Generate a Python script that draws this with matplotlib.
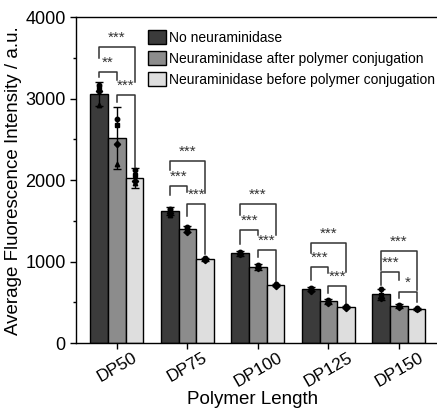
"""Neuraminidase fluorescence bar chart with significance brackets."""

import matplotlib
matplotlib.use("Agg")
import matplotlib.pyplot as plt
import numpy as np

plt.rcParams["font.family"] = ["Liberation Sans", "DejaVu Sans"]

groups = ["DP50", "DP75", "DP100", "DP125", "DP150"]
series = [
    "No neuraminidase",
    "Neuraminidase after polymer conjugation",
    "Neuraminidase before polymer conjugation",
]
means = [
    [3055, 1620, 1105, 662, 600],
    [2515, 1400, 935, 515, 455],
    [2025, 1030, 712, 442, 420],
]
errs = [
    [150, 50, 30, 25, 70],
    [380, 40, 35, 30, 20],
    [120, 20, 15, 15, 15],
]
# individual replicate points per series, per group
points = [
    [[3165, 3130, 3090, 2920], [1650, 1630, 1600, 1570], [1120, 1100, 1090],
     [680, 660, 645], [660, 590, 560]],
    [[2750, 2675, 2440, 2195], [1430, 1400, 1370], [960, 940, 920],
     [535, 510, 495], [470, 455, 445]],
    [[2120, 2060, 1990, 1970], [1040, 1030, 1025], [720, 712, 705],
     [450, 442, 435], [428, 420, 414]],
]
# significance brackets: (group, bar a, bar b, top, left foot, right foot, label)
brackets = [
    (0, 0, 2, 3640, 3500, 3200, "***"), (0, 0, 1, 3325, 3265, 3225, "**"),
    (0, 1, 2, 3045, 2955, 2160, "***"),
    (1, 0, 2, 2233, 2120, 1840, "***"), (1, 0, 1, 1926, 1815, 1850, "***"),
    (1, 1, 2, 1705, 1560, 1100, "***"),
    (2, 0, 2, 1705, 1570, 1325, "***"), (2, 0, 1, 1386, 1215, 1325, "***"),
    (2, 1, 2, 1141, 1055, 736, "***"),
    (3, 0, 2, 1227, 1104, 871, "***"), (3, 0, 1, 933, 773, 859, "***"),
    (3, 1, 2, 700, 613, 466, "***"),
    (4, 0, 2, 1129, 896, 650, "***"), (4, 0, 1, 871, 712, 773, "***"),
    (4, 1, 2, 626, 552, 503, "*"),
]

colors = ["#3b3b3b", "#8c8c8c", "#dedede"]
markers = ["o", "s", "D", "^"]
width = 0.25

fig = plt.figure(figsize=(4.37, 4.09), dpi=100)
ax = fig.add_axes([0.174, 0.161, 0.826, 0.797])

x = np.arange(len(groups))
for k in range(3):
    xs = x + (k - 1) * width
    ax.bar(xs, means[k], width, color=colors[k], edgecolor="black",
           linewidth=1.0, label=series[k], zorder=2)
    ax.errorbar(xs, means[k], yerr=errs[k], fmt="none", ecolor="black",
                elinewidth=1, capsize=3, capthick=1, zorder=3)
    for g in range(len(groups)):
        for i, v in enumerate(points[k][g]):
            ax.plot(xs[g], v, marker=markers[i % 4], color="black",
                    markersize=3.2, linestyle="none", zorder=4)

for g, a, b, top, lf, rf, lab in brackets:
    xa = g + (a - 1) * width
    xb = g + (b - 1) * width
    ax.plot([xa, xa, xb, xb], [lf, top, top, rf], color="#333333",
            linewidth=1.1, zorder=3)
    ax.text((xa + xb) / 2, top + 25, lab, ha="center", va="bottom",
            fontsize=11, color="#333333")

ax.set_xlim(-0.58, 4.54)
ax.set_ylim(0, 4000)
ax.set_yticks([0, 1000, 2000, 3000, 4000])
ax.set_yticks([500, 1500, 2500, 3500], minor=True)
ax.set_xticks(x)
ax.set_xticklabels(groups, rotation=30, ha="center", fontsize=12.5)
ax.tick_params(axis="y", labelsize=13, direction="out", length=4, width=1)
ax.tick_params(axis="y", which="minor", direction="out", length=2, width=1)
ax.tick_params(axis="x", direction="out", length=4, width=1, pad=1)
ax.spines["right"].set_visible(False)
for s in ["left", "top", "bottom"]:
    ax.spines[s].set_linewidth(1)

ax.set_ylabel("Average Fluorescence Intensity / a.u.", fontsize=13.5,
              labelpad=2)
ax.set_xlabel("Polymer Length", fontsize=13.5, va="bottom")
ax.xaxis.set_label_coords(0.488, -0.198)

ax.legend(loc="upper left", bbox_to_anchor=(0.199, 0.96), frameon=False,
          fontsize=10, handlelength=1.3, handleheight=1.15,
          handletextpad=0.25, labelspacing=0.45, borderaxespad=0,
          borderpad=0)

fig.savefig("out.png", dpi=100)
